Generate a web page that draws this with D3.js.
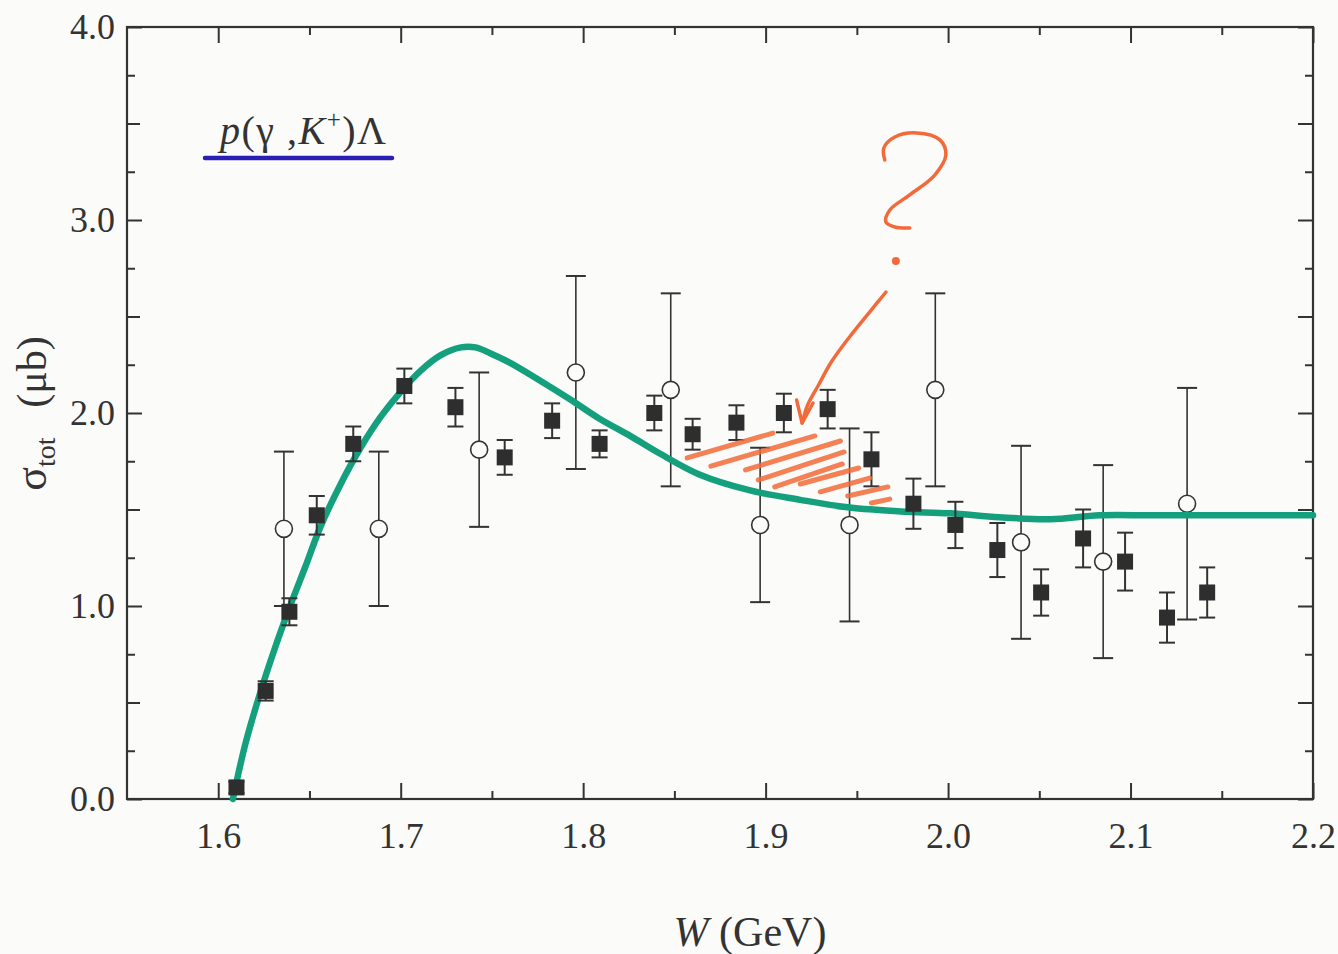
<!DOCTYPE html>
<html>
<head>
<meta charset="utf-8">
<script src="https://cdn.jsdelivr.net/npm/d3@7"></script>
<style>
  html, body { margin: 0; padding: 0; background: #fbfbf9; }
  svg { display: block; }
  text { font-family: "Liberation Serif", "DejaVu Serif", serif; fill: #333; }
</style>
</head>
<body>
<svg id="chart" width="1338" height="954"></svg>
<script>
// ---------- data ----------
// SAPHIR-like filled squares
const sqW = [1.610, 1.626, 1.639, 1.654, 1.674, 1.702, 1.730, 1.757, 1.783, 1.809, 1.839, 1.860,
             1.884, 1.910, 1.934, 1.958, 1.981, 2.004, 2.027, 2.051, 2.074, 2.097, 2.120, 2.142];
const sqS = [0.06, 0.56, 0.97, 1.47, 1.84, 2.14, 2.03, 1.77, 1.96, 1.84, 2.00, 1.89,
             1.95, 2.00, 2.02, 1.76, 1.53, 1.42, 1.29, 1.07, 1.35, 1.23, 0.94, 1.07];
const sqE = [0.03, 0.05, 0.07, 0.10, 0.09, 0.09, 0.10, 0.09, 0.09, 0.07, 0.09, 0.08,
             0.09, 0.10, 0.10, 0.14, 0.13, 0.12, 0.14, 0.12, 0.15, 0.15, 0.13, 0.13];
// older data, open circles
const ciW = [1.636, 1.688, 1.743, 1.796, 1.848, 1.897, 1.946, 1.993, 2.040, 2.085, 2.131];
const ciS = [1.40, 1.40, 1.81, 2.21, 2.12, 1.42, 1.42, 2.12, 1.33, 1.23, 1.53];
const ciE = [0.40, 0.40, 0.40, 0.50, 0.50, 0.40, 0.50, 0.50, 0.50, 0.50, 0.60];
// model curve
const curveW = [1.608, 1.615, 1.623, 1.631, 1.639, 1.648, 1.656, 1.667, 1.678, 1.689, 1.700, 1.711,
                1.722, 1.733, 1.741, 1.749, 1.760, 1.776, 1.793, 1.809, 1.826, 1.842, 1.864, 1.891,
                1.919, 1.946, 1.974, 2.001, 2.028, 2.056, 2.083, 2.111, 2.138, 2.165, 2.200];
const curveS = [0.00, 0.29, 0.55, 0.78, 0.99, 1.21, 1.41, 1.63, 1.82, 1.98, 2.11, 2.22,
                2.30, 2.34, 2.34, 2.31, 2.26, 2.17, 2.07, 1.97, 1.88, 1.79, 1.68, 1.60,
                1.55, 1.51, 1.49, 1.48, 1.46, 1.45, 1.47, 1.47, 1.47, 1.47, 1.47];
// axes
const xMajor = [1.6, 1.7, 1.8, 1.9, 2.0, 2.1, 2.2];
const xLabels = ["1.6", "1.7", "1.8", "1.9", "2.0", "2.1", "2.2"];
const xMinor = [1.65, 1.75, 1.85, 1.95, 2.05, 2.15];
const yMajor = [0, 1, 2, 3, 4];
const yLabels = ["0.0", "1.0", "2.0", "3.0", "4.0"];
const yHalf = [0.5, 1.5, 2.5, 3.5];
const yQuarter = [0.25, 0.75, 1.25, 1.75, 2.25, 2.75, 3.25, 3.75];
// hand-drawn annotation (in data coordinates W, sigma)
const hatchW1 = [1.857, 1.870, 1.889, 1.896, 1.905, 1.919, 1.930, 1.945, 1.958];
const hatchS1 = [1.767, 1.725, 1.705, 1.653, 1.617, 1.632, 1.591, 1.570, 1.534];
const hatchW2 = [1.904, 1.927, 1.941, 1.943, 1.942, 1.951, 1.957, 1.967, 1.968];
const hatchS2 = [1.896, 1.881, 1.855, 1.798, 1.736, 1.715, 1.663, 1.617, 1.554];
const arrowW = [1.966, 1.957, 1.946, 1.936, 1.929, 1.923, 1.920];
const arrowS = [2.627, 2.523, 2.394, 2.264, 2.145, 2.041, 1.948];
const headW = [1.917, 1.920, 1.926];
const headS = [2.067, 1.948, 2.052];
const qW = [1.9653, 1.9648, 1.9708, 1.9829, 1.9955, 1.9988, 1.9927, 1.9790, 1.9681, 1.9659, 1.9708, 1.9790];
const qS = [3.311, 3.373, 3.430, 3.451, 3.415, 3.337, 3.233, 3.130, 3.052, 2.990, 2.964, 2.959];
const qDotW = [1.9714];
const qDotS = [2.788];

// ---------- drawing ----------
const svg = d3.select("#chart");
const x = d3.scaleLinear().domain([1.55, 2.2]).range([127, 1313]);
const y = d3.scaleLinear().domain([0, 4]).range([799, 27]);
const ink = "#333";

// frame
svg.append("rect")
  .attr("x", x.range()[0]).attr("y", y.range()[1])
  .attr("width", x.range()[1] - x.range()[0]).attr("height", y.range()[0] - y.range()[1])
  .attr("fill", "none").attr("stroke", ink).attr("stroke-width", 2.2);

function styleAxis(g) {
  g.select(".domain").remove();
  g.selectAll(".tick line").attr("stroke", ink).attr("stroke-width", 2);
}
const fs = 36;
// bottom
svg.append("g").attr("transform", `translate(0,${y(0)})`)
  .call(d3.axisBottom(x).tickValues(xMajor).tickSize(-16).tickPadding(23)
        .tickFormat((d, i) => xLabels[i]))
  .call(styleAxis)
  .call(g => g.selectAll("text").attr("font-size", fs).attr("fill", ink)
        .attr("font-family", "Liberation Serif"));
svg.append("g").attr("transform", `translate(0,${y(0)})`)
  .call(d3.axisBottom(x).tickValues(xMinor).tickSize(-8).tickFormat(""))
  .call(styleAxis);
// top
svg.append("g").attr("transform", `translate(0,${y(4)})`)
  .call(d3.axisTop(x).tickValues(xMajor).tickSize(-16).tickFormat(""))
  .call(styleAxis);
svg.append("g").attr("transform", `translate(0,${y(4)})`)
  .call(d3.axisTop(x).tickValues(xMinor).tickSize(-8).tickFormat(""))
  .call(styleAxis);
// left
svg.append("g").attr("transform", `translate(${x(1.55)},0)`)
  .call(d3.axisLeft(y).tickValues(yMajor).tickSize(-15).tickPadding(12)
        .tickFormat((d, i) => yLabels[i]))
  .call(styleAxis)
  .call(g => g.selectAll("text").attr("font-size", fs).attr("fill", ink)
        .attr("font-family", "Liberation Serif"));
svg.append("g").attr("transform", `translate(${x(1.55)},0)`)
  .call(d3.axisLeft(y).tickValues(yHalf).tickSize(-13).tickFormat(""))
  .call(styleAxis);
svg.append("g").attr("transform", `translate(${x(1.55)},0)`)
  .call(d3.axisLeft(y).tickValues(yQuarter).tickSize(-8).tickFormat(""))
  .call(styleAxis);
// right
svg.append("g").attr("transform", `translate(${x(2.2)},0)`)
  .call(d3.axisRight(y).tickValues(yMajor.concat(yHalf)).tickSize(-15).tickFormat(""))
  .call(styleAxis);
svg.append("g").attr("transform", `translate(${x(2.2)},0)`)
  .call(d3.axisRight(y).tickValues(yQuarter).tickSize(-8).tickFormat(""))
  .call(styleAxis);

// axis titles
const xt = svg.append("text").attr("x", 750).attr("y", 946)
  .attr("text-anchor", "middle").attr("font-size", 42);
xt.append("tspan").attr("font-style", "italic").text("W");
xt.append("tspan").text(" (GeV)");

const yt1 = svg.append("text").attr("transform", "translate(46,464) rotate(-90)")
  .attr("text-anchor", "middle").attr("font-size", 44);
yt1.append("tspan").text("σ");
yt1.append("tspan").attr("font-size", 28).attr("dy", 9).text("tot");
svg.append("text").attr("transform", "translate(46,372) rotate(-90)")
  .attr("text-anchor", "middle").attr("font-size", 42).text("(μb)");

// legend label
const lg = svg.append("text").attr("x", 220).attr("y", 144).attr("font-size", 40)
  .attr("letter-spacing", 1.5);
lg.append("tspan").attr("font-style", "italic").text("p");
lg.append("tspan").text("(γ ,");
lg.append("tspan").attr("font-style", "italic").text("K");
lg.append("tspan").attr("font-size", 25).attr("dy", -16).text("+");
lg.append("tspan").attr("dy", 16).text(")Λ");
svg.append("line").attr("x1", 205).attr("x2", 392).attr("y1", 158).attr("y2", 158)
  .attr("stroke", "#2a1fb5").attr("stroke-width", 4.5).attr("stroke-linecap", "round");

// open circles with error bars
const circles = ciW.map((w, i) => ({w, s: ciS[i], e: ciE[i]}));
const cg = svg.append("g");
cg.selectAll("line.bar").data(circles).join("line")
  .attr("x1", d => x(d.w)).attr("x2", d => x(d.w))
  .attr("y1", d => y(d.s - d.e)).attr("y2", d => y(d.s + d.e))
  .attr("stroke", ink).attr("stroke-width", 1.6);
["lo", "hi"].forEach(k => {
  cg.selectAll("line.cap" + k).data(circles).join("line")
    .attr("x1", d => x(d.w) - 10).attr("x2", d => x(d.w) + 10)
    .attr("y1", d => y(k === "lo" ? d.s - d.e : d.s + d.e))
    .attr("y2", d => y(k === "lo" ? d.s - d.e : d.s + d.e))
    .attr("stroke", ink).attr("stroke-width", 2);
});
cg.selectAll("circle").data(circles).join("circle")
  .attr("cx", d => x(d.w)).attr("cy", d => y(d.s)).attr("r", 8.5)
  .attr("fill", "#fbfbf9").attr("stroke", ink).attr("stroke-width", 1.6);

// green model curve
const line = d3.line().x(d => x(d[0])).y(d => y(d[1])).curve(d3.curveCatmullRom.alpha(0.5));
svg.append("path").datum(curveW.map((w, i) => [w, curveS[i]]))
  .attr("d", line).attr("fill", "none").attr("stroke", "#14a07c")
  .attr("stroke-width", 6.5).attr("stroke-linecap", "round").attr("stroke-linejoin", "round");

// squares with error bars
const squares = sqW.map((w, i) => ({w, s: sqS[i], e: sqE[i]}));
const sg = svg.append("g");
sg.selectAll("line.bar").data(squares).join("line")
  .attr("x1", d => x(d.w)).attr("x2", d => x(d.w))
  .attr("y1", d => y(d.s - d.e)).attr("y2", d => y(d.s + d.e))
  .attr("stroke", ink).attr("stroke-width", 2);
["lo", "hi"].forEach(k => {
  sg.selectAll("line.cap" + k).data(squares).join("line")
    .attr("x1", d => x(d.w) - 8).attr("x2", d => x(d.w) + 8)
    .attr("y1", d => y(k === "lo" ? d.s - d.e : d.s + d.e))
    .attr("y2", d => y(k === "lo" ? d.s - d.e : d.s + d.e))
    .attr("stroke", ink).attr("stroke-width", 2);
});
sg.selectAll("rect").data(squares).join("rect")
  .attr("x", d => x(d.w) - 8).attr("y", d => y(d.s) - 8)
  .attr("width", 16).attr("height", 16).attr("fill", "#2e2e2e");

// hand-drawn annotation
const orange = "#f26a3a";
const ann = svg.append("g").attr("fill", "none").attr("stroke", orange)
  .attr("stroke-linecap", "round").attr("stroke-linejoin", "round");
ann.selectAll("line").data(hatchW1.map((w, i) => i)).join("line")
  .attr("x1", i => x(hatchW1[i])).attr("y1", i => y(hatchS1[i]))
  .attr("x2", i => x(hatchW2[i])).attr("y2", i => y(hatchS2[i]))
  .attr("stroke-width", 5).attr("opacity", 0.85);
const smooth = d3.line().x(d => x(d[0])).y(d => y(d[1])).curve(d3.curveCatmullRom.alpha(0.5));
ann.append("path").datum(arrowW.map((w, i) => [w, arrowS[i]]))
  .attr("d", smooth).attr("stroke-width", 3.5);
ann.append("path").datum(headW.map((w, i) => [w, headS[i]]))
  .attr("d", d3.line().x(d => x(d[0])).y(d => y(d[1]))).attr("stroke-width", 3.5);
ann.append("path").datum(qW.map((w, i) => [w, qS[i]]))
  .attr("d", smooth).attr("stroke-width", 3.5);
ann.selectAll("circle").data(qDotW.map((w, i) => [w, qDotS[i]])).join("circle")
  .attr("cx", d => x(d[0])).attr("cy", d => y(d[1])).attr("r", 4)
  .attr("fill", orange).attr("stroke", "none");
</script>
</body>
</html>
